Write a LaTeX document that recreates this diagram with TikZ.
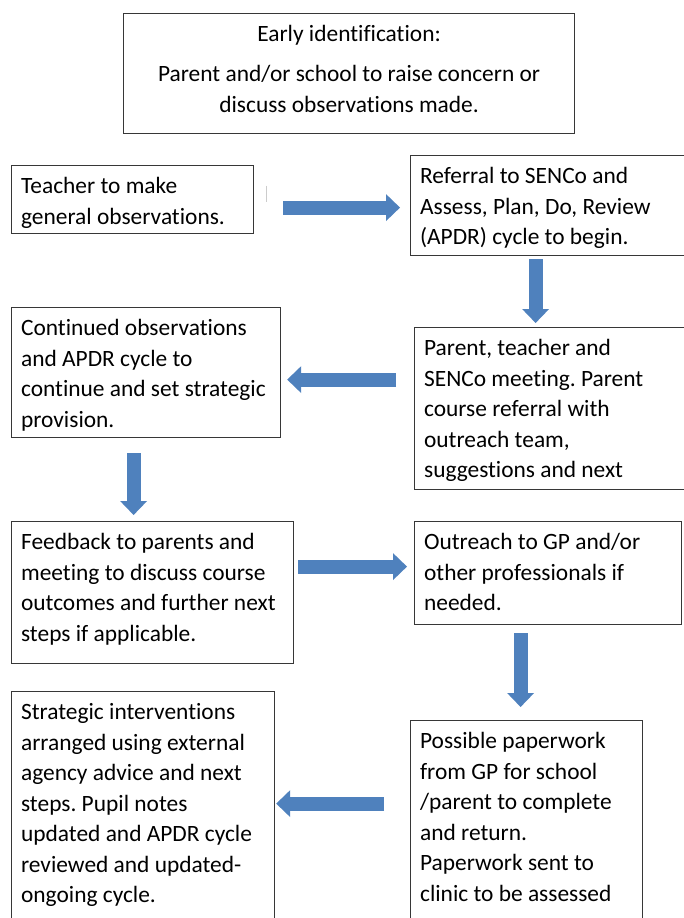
\documentclass[tikz,border=0pt]{standalone}
\usepackage{fontspec}
\setmainfont{Carlito}[Ligatures=NoCommon]
\usepackage{tikz}
\usetikzlibrary{calc, arrows.meta, positioning}
\tikzset{
    flownode/.style = {draw=boxline, line width=1.2pt, rectangle, anchor=north west, inner sep=0em, 
      font=\boxfont, text=black},
    connect/.style = {arrowblue, line width=14pt, -{Triangle[width=27pt, length=14pt, line width=0pt]}},
    marknode/.style = {draw=gray!40, line width=1pt}
}
\definecolor{arrowblue}{RGB}{79, 129, 189}
\definecolor{boxline}{RGB}{55, 55, 55}
\frenchspacing
\newcommand{\boxfont}{\fontsize{23.4}{30.5}\selectfont}
\newcommand{\boxtext}[3]{\parbox[c][#2pt][t]{#1pt}{\raggedright\leftskip=9.5pt\rule{0pt}{28pt}#3}}
\newcommand{\toptext}[3]{\parbox[c][#2pt][t]{#1pt}{\centering\rule{0pt}{28pt}#3}}

\begin{document}
\begin{tikzpicture}[x=1pt, y=-1pt]
\clip (0,0) rectangle (684,918);

\node [flownode, name=identify] at (123,13) {\toptext{451}{120}{Early identification:\\[9.5pt]
    Parent and/or school to raise concern or\\discuss observations made.}};

\node [flownode, name=teacher] at (11,165) {\boxtext{242}{68}{Teacher to make\\general observations.}};
\node [flownode, name=referral] at (410,155) {\boxtext{280}{100}{Referral to SENCo and\\
    Assess, Plan, Do, Review\\(APDR) cycle to begin.}};
\draw [marknode] ($(teacher.east)+(12,-14)$) -- ($(teacher.east)+(12,2)$);

\node [flownode, name=continued] at (11,307) {\boxtext{269}{130}{Continued observations\\
    and APDR cycle to\\continue and set strategic\\provision.}};
\node [flownode, name=parent] at (414,327) {\boxtext{276}{162}{Parent, teacher and\\
    SENCo meeting. Parent\\course referral with\\outreach team,\\suggestions and next}};

\node [flownode, name=feedback] at (11,521) {\boxtext{282}{142}{Feedback to parents and\\
    meeting to discuss course\\outcomes and further next\\steps if applicable.}};
\node [flownode, name=outreach] at (414,521) {\boxtext{267}{103}{Outreach to GP and/or\\
    other professionals if\\needed.}};

\node [flownode, name=strategic] at (11,691) {\boxtext{263}{240}{Strategic interventions\\
    arranged using external\\agency advice and next\\steps. Pupil notes\\
    updated and APDR cycle\\reviewed and updated-\\ongoing cycle.}};
\node [flownode, name=possible] at (410,720) {\boxtext{232}{210}{Possible paperwork\\
    from GP for school\\/parent to complete\\and return.\\Paperwork sent to\\
    clinic to be assessed}};

\draw [connect] ($(teacher.east)+(29,8)$) -- ($(referral.west)+(-10,2)$);
\draw [connect] ($(referral.south)+(-15,3)$) -- ($(parent.north)+(-17,-4)$);
\draw [connect] ($(parent.west)+(-18,-29)$) -- ($(continued.east)+(6,7)$);
\draw [connect] ($(continued.south)+(-12.5,15)$) -- ($(feedback.north)+(-19,-6)$);
\draw [connect] ($(feedback.east)+(4,-26)$) -- ($(outreach.west)+(-7,-6.5)$);
\draw [connect] ($(outreach.south)+(-27.5,8)$) -- ($(possible.north)+(-6,-13)$);
\draw [connect] ($(possible.west)+(-26,-22)$) -- ($(strategic.east)+(1,-8)$);
\end{tikzpicture}
\end{document}
